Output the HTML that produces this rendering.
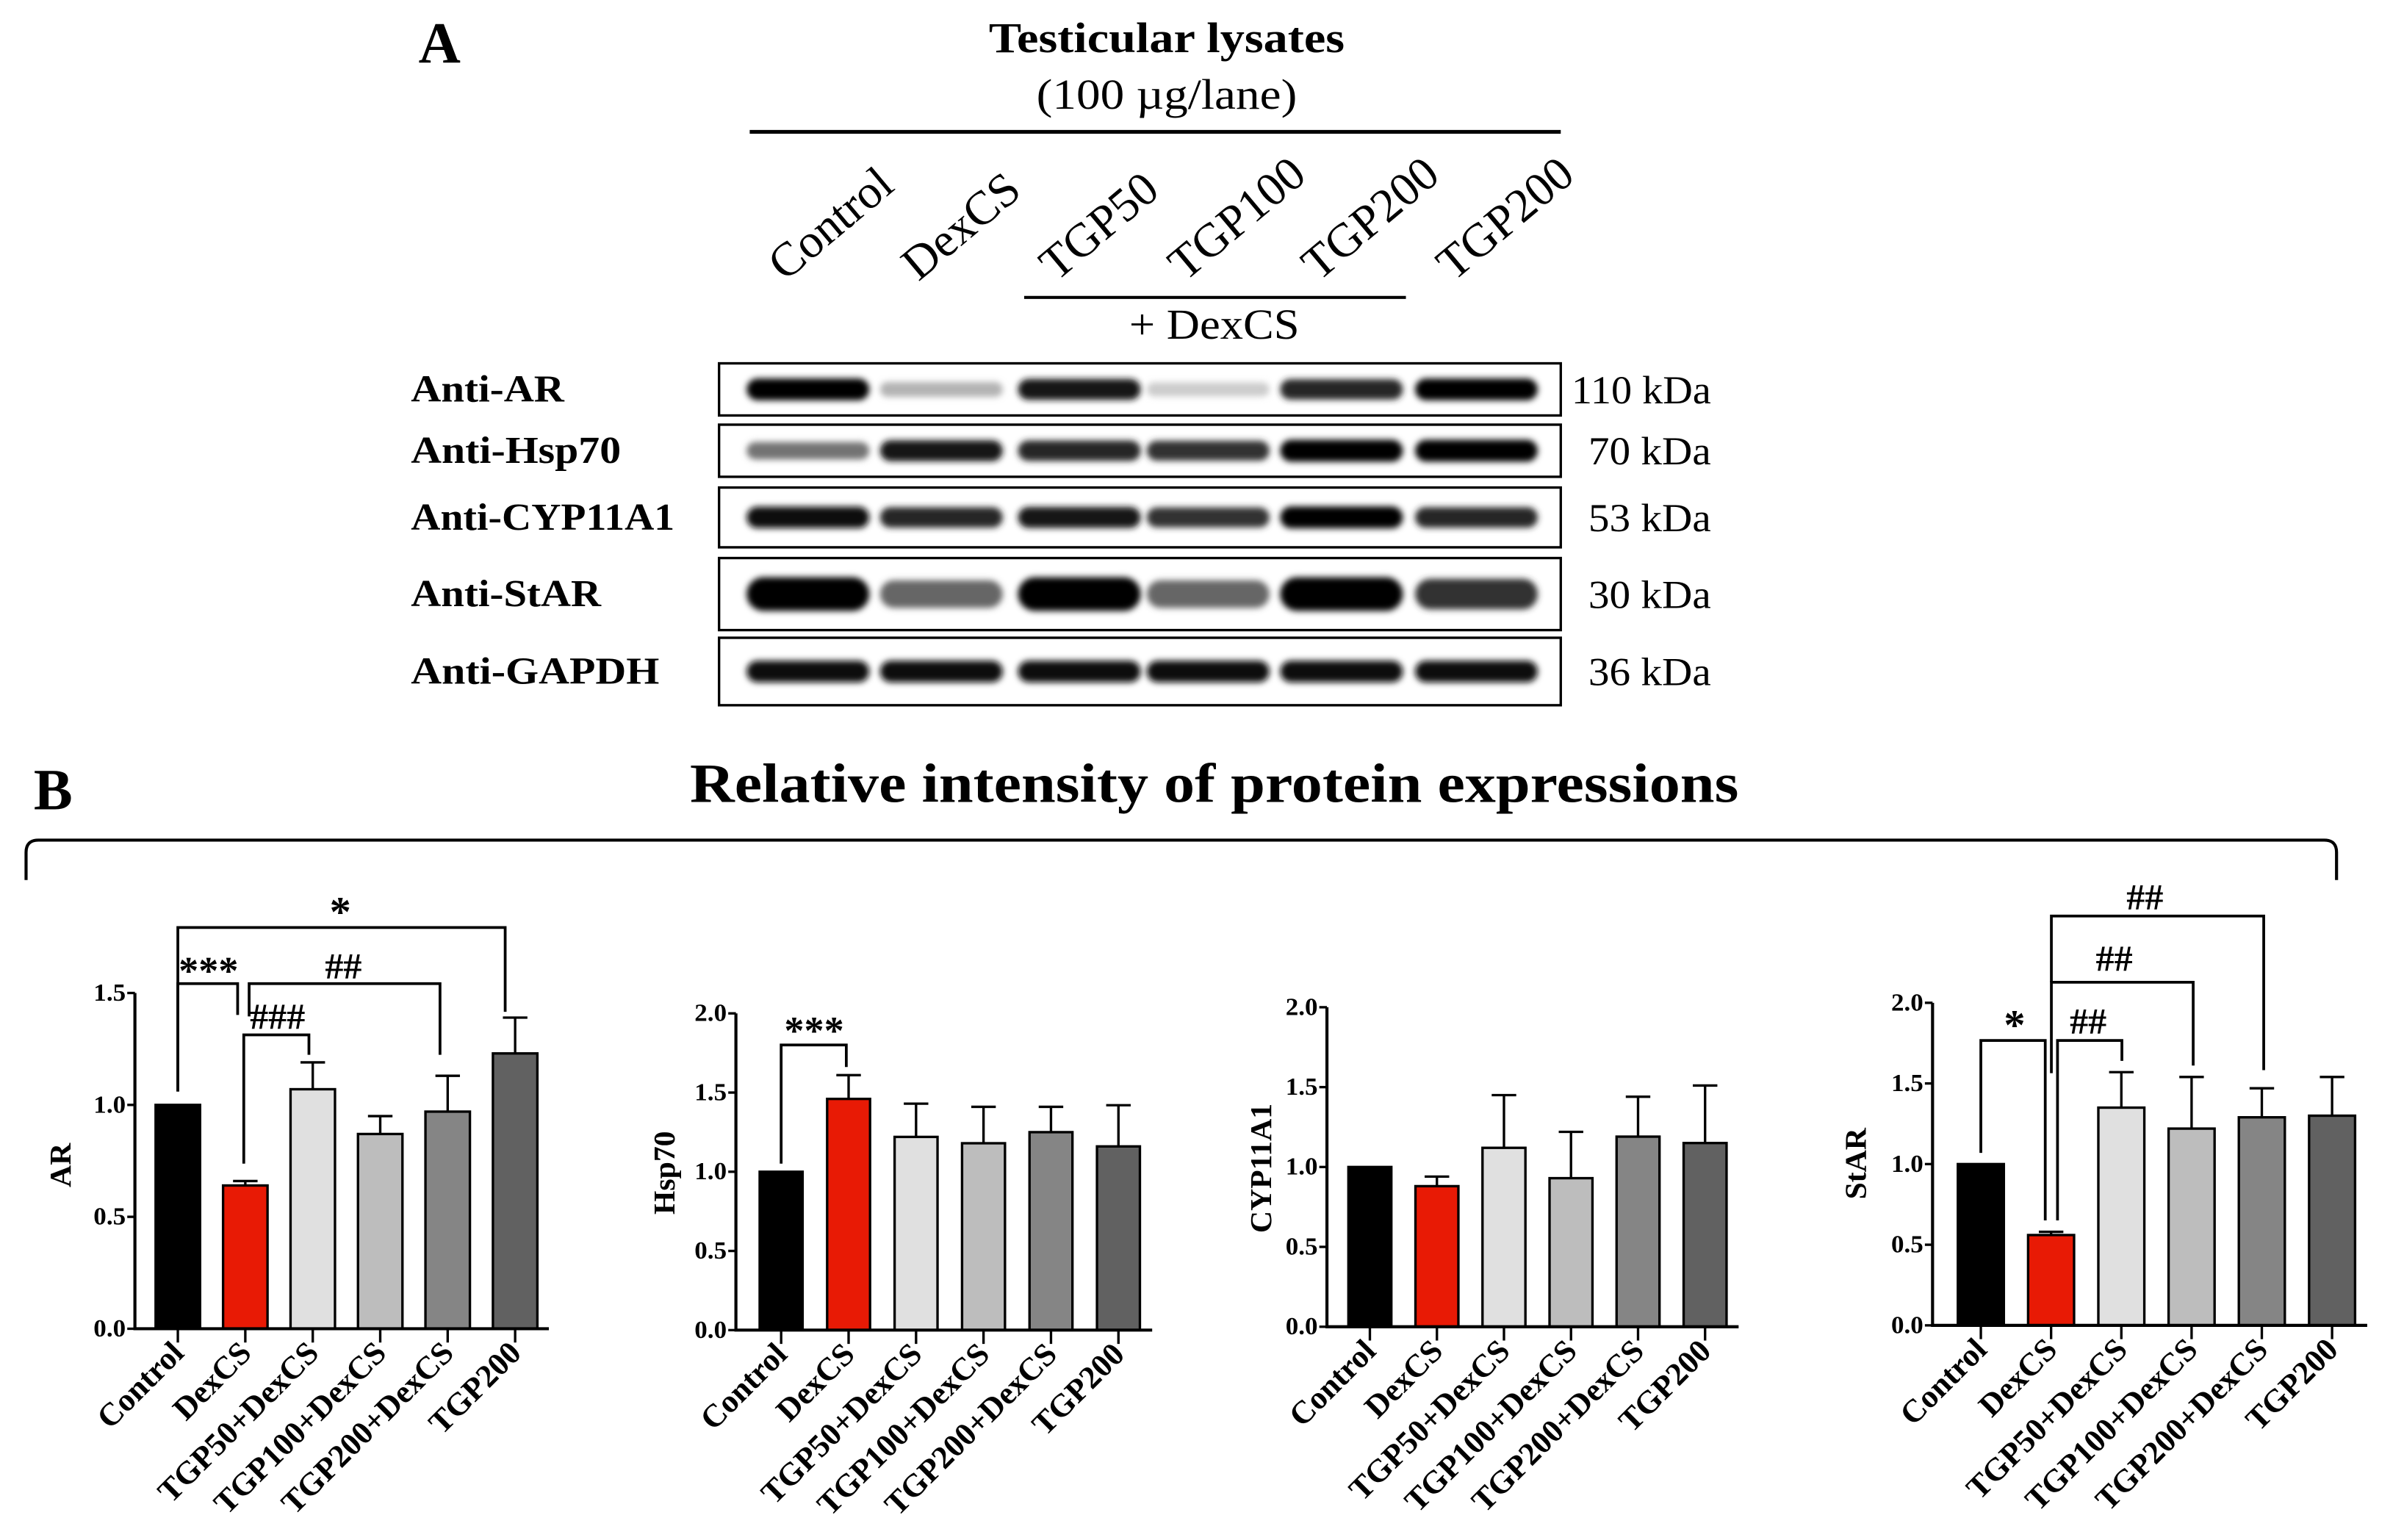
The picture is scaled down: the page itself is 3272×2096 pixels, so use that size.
<!DOCTYPE html>
<html><head><meta charset="utf-8"><style>
html,body{margin:0;padding:0;background:#fff;}
svg{display:block;}
text{font-family:"Liberation Serif",serif;}
</style></head><body>
<svg id="fig" width="3272" height="2096" viewBox="0 0 1568 1004.5" preserveAspectRatio="none" xmlns="http://www.w3.org/2000/svg">
<defs><filter id="blur" x="-30%" y="-80%" width="160%" height="260%"><feGaussianBlur stdDeviation="2"/></filter></defs>
<text x="273" y="41" font-size="38" font-weight="bold">A</text>
<text x="761" y="34" font-size="28" font-weight="bold" text-anchor="middle" textLength="232" lengthAdjust="spacingAndGlyphs">Testicular lysates</text>
<text x="761" y="71" font-size="28" text-anchor="middle" textLength="170" lengthAdjust="spacingAndGlyphs">(100 µg/lane)</text>
<line x1="489" y1="86" x2="1018" y2="86" stroke="#000" stroke-width="2.5"/>
<line x1="668" y1="194" x2="917" y2="194" stroke="#000" stroke-width="2"/>
<text x="792" y="221" font-size="28" text-anchor="middle" textLength="111" lengthAdjust="spacingAndGlyphs">+ DexCS</text>
<g id="blots"></g>
<text x="22" y="528" font-size="38" font-weight="bold">B</text>
<text x="792" y="523" font-size="36" font-weight="bold" text-anchor="middle" textLength="684" lengthAdjust="spacingAndGlyphs">Relative intensity of protein expressions</text>
<path d="M17,574 L17,556 Q17,548 25,548 L1516,548 Q1524,548 1524,556 L1524,574" fill="none" stroke="#000" stroke-width="2"/>
<g id="charts"></g>
</svg>
<script>
const NS="http://www.w3.org/2000/svg";
const svg=document.getElementById('fig');
function mk(tag,attrs,parent){const e=document.createElementNS(NS,tag);for(const k in attrs)e.setAttribute(k,attrs[k]);(parent||svg).appendChild(e);return e;}

// ---- Western blot data ----
const laneLabels=["Control","DexCS","TGP50","TGP100","TGP200","TGP200"];
const blotProteins=["Anti-AR","Anti-Hsp70","Anti-CYP11A1","Anti-StAR","Anti-GAPDH"];
const blotKda=["110 kDa","70 kDa","53 kDa","30 kDa","36 kDa"];
const bandAR=[1,0.3,0.9,0.2,0.85,1];
const bandHsp=[0.55,0.9,0.85,0.8,1,1];
const bandCyp=[0.95,0.85,0.9,0.8,1,0.85];
const bandStar=[1,0.6,1,0.6,1,0.8];
const bandGapdh=[0.97,0.97,0.97,0.97,0.97,0.97];
const bandRows=[bandAR,bandHsp,bandCyp,bandStar,bandGapdh];

const laneX=[527,614,704,788,875,963];
const rowBox=[[237,271],[277,311],[318,357],[364,411],[416,460]];
const kdaW=[91,80,80,80,80];
const protW=[100,137,172,124,162];
const bg=document.getElementById('blots');
laneLabels.forEach((l,i)=>{
  const t=mk('text',{x:laneX[i]-15,y:184,'font-size':31,transform:`rotate(-40 ${laneX[i]-15} 184)`},bg);
  
  
  t.textContent=l;
});
blotProteins.forEach((p,r)=>{
  const [y0,y1]=rowBox[r];
  const cy=(y0+y1)/2;
  const t=mk('text',{x:268,y:cy+8,'font-size':25,'font-weight':'bold',textLength:protW[r],lengthAdjust:'spacingAndGlyphs'},bg);
  
  
  t.textContent=p;
  const box=mk('rect',{x:469,y:y0,width:549,height:y1-y0,fill:'#fff',stroke:'#000','stroke-width':1.6},bg);
  
  
  bandRows[r].forEach((v,i)=>{
    const g=Math.round(255*(1-v));
    const h=(r===3?20:13)*(0.6+0.5*v);
    const b=mk('rect',{x:laneX[i]-40,y:cy-h/2,width:80,height:h,rx:h/2,fill:`rgb(${g},${g},${g})`,filter:'url(#blur)'},bg);
    
    
  });
  const k=mk('text',{x:1116,y:cy+9,'font-size':26,'text-anchor':'end',textLength:kdaW[r],lengthAdjust:'spacingAndGlyphs'},bg);
  
  
  k.textContent=blotKda[r];
});

// ---- Bar chart data ----
const categories=["Control","DexCS","TGP50+DexCS","TGP100+DexCS","TGP200+DexCS","TGP200"];
const arValues=[1.0,0.64,1.07,0.87,0.97,1.23];
const arErrors=[0,0.02,0.12,0.08,0.16,0.16];
const hspValues=[1.0,1.46,1.22,1.18,1.25,1.16];
const hspErrors=[0,0.15,0.21,0.23,0.16,0.26];
const cypValues=[1.0,0.88,1.12,0.93,1.19,1.15];
const cypErrors=[0,0.06,0.33,0.29,0.25,0.36];
const starValues=[1.0,0.56,1.35,1.22,1.29,1.30];
const starErrors=[0,0.02,0.22,0.32,0.18,0.24];
const arTicks=["0.0","0.5","1.0","1.5"];
const twoTicks=["0.0","0.5","1.0","1.5","2.0"];

const colors=["#000000","#e81a05","#e0e0e0","#bdbdbd","#858585","#616161"];
const cg=document.getElementById('charts');

function chart(o){
  const g=mk('g',{},cg);
  
  
  const ymax=parseFloat(o.ticks[o.ticks.length-1]);
  const Y=v=>o.y0-(v/ymax)*(o.y0-o.yTop);
  const n=categories.length;
  const step=(o.xEnd-o.ax-o.pad0)/ (n-0.5);
  const X=i=>o.ax+o.pad0+i*step;
  o.values.forEach((v,i)=>{
    const e=o.errors[i];
    if(e>0){
      const l=mk('path',{d:`M${X(i)},${Y(v)} V${Y(v+e)} M${X(i)-8},${Y(v+e)} H${X(i)+8}`,stroke:'#000','stroke-width':1.6,fill:'none'},g);
      
      
    }
    const r=mk('rect',{x:X(i)-o.bw/2,y:Y(v),width:o.bw,height:o.y0-Y(v),fill:colors[i],stroke:'#000','stroke-width':1.6},g);
    
    
    const tk=mk('line',{x1:X(i),y1:o.y0,x2:X(i),y2:o.y0+9,stroke:'#000','stroke-width':1.6},g);
    
    
    const t=mk('text',{x:X(i)+5,y:o.y0+17,'font-size':21,'font-weight':'bold','text-anchor':'end',transform:`rotate(-45 ${X(i)+5} ${o.y0+17})`},g);
    
    
    t.textContent=categories[i];
  });
  const ax=mk('path',{d:`M${o.ax},${o.yTop} V${o.y0} H${o.xEnd}`,stroke:'#000','stroke-width':2,fill:'none'},g);
  
  
  o.ticks.forEach(tl=>{
    const v=parseFloat(tl);
    const l=mk('line',{x1:o.ax-5,y1:Y(v),x2:o.ax,y2:Y(v),stroke:'#000','stroke-width':1.6},g);
    
    
    const t=mk('text',{x:o.ax-6,y:Y(v)+5,'font-size':16,'font-weight':'bold','text-anchor':'end',textLength:21,lengthAdjust:'spacingAndGlyphs'},g);
    
    
    t.textContent=tl;
  });
  const yl=mk('text',{x:o.ylx,y:o.yly,'font-size':20,'font-weight':'bold','text-anchor':'middle',transform:`rotate(-90 ${o.ylx} ${o.yly})`},g);
  
  
  yl.textContent=o.label;
  (o.sig||[]).forEach(s=>{
    const p=mk('path',{d:s.d,stroke:'#000','stroke-width':1.8,fill:'none'},g);
    
    
    const t=mk('text',{x:s.tx,y:s.ty,'font-size':s.fs||24,'font-weight':'bold','text-anchor':'middle'},g);
    
    
    t.textContent=s.t;
  });
}

chart({name:'ar-chart',label:'AR',values:arValues,errors:arErrors,ticks:arTicks,ax:88,yTop:647.7,y0:866.7,xEnd:358,pad0:28,bw:29,ylx:46,yly:760,
 sig:[
  {d:'M116,712 V605 H329.5 V660',t:'*',tx:222,ty:604,fs:28},
  {d:'M116,712 V641.6 H155 V662',t:'***',tx:136,ty:642,fs:26},
  {d:'M162.5,663 V641.6 H287 V688',t:'##',tx:224,ty:638},
  {d:'M159,759 V675 H201.5 V688',t:'###',tx:181,ty:671}
 ]});
chart({name:'hsp70-chart',label:'Hsp70',values:hspValues,errors:hspErrors,ticks:twoTicks,ax:480,yTop:661,y0:867.6,xEnd:751.5,pad0:29.5,bw:28,ylx:440,yly:765,
 sig:[{d:'M509.5,759 V681.6 H552 V696',t:'***',tx:531,ty:681,fs:26}]});
chart({name:'cyp11a1-chart',label:'CYP11A1',values:cypValues,errors:cypErrors,ticks:twoTicks,ax:865.5,yTop:657,y0:865.4,xEnd:1134,pad0:28,bw:28,ylx:829,yly:762});
chart({name:'star-chart',label:'StAR',values:starValues,errors:starErrors,ticks:twoTicks,ax:1260.5,yTop:654.1,y0:864.5,xEnd:1544,pad0:31.5,bw:30,ylx:1217,yly:759,
 sig:[
  {d:'M1292,752 V678.7 H1334 V796',t:'*',tx:1314,ty:678,fs:28},
  {d:'M1342,796 V678.7 H1384 V692',t:'##',tx:1362,ty:674},
  {d:'M1338,700 V640.7 H1430.5 V695',t:'##',tx:1379,ty:633},
  {d:'M1338,640.7 V597.5 H1476.5 V698',t:'##',tx:1399,ty:593}
 ]});
</script>
</body></html>
